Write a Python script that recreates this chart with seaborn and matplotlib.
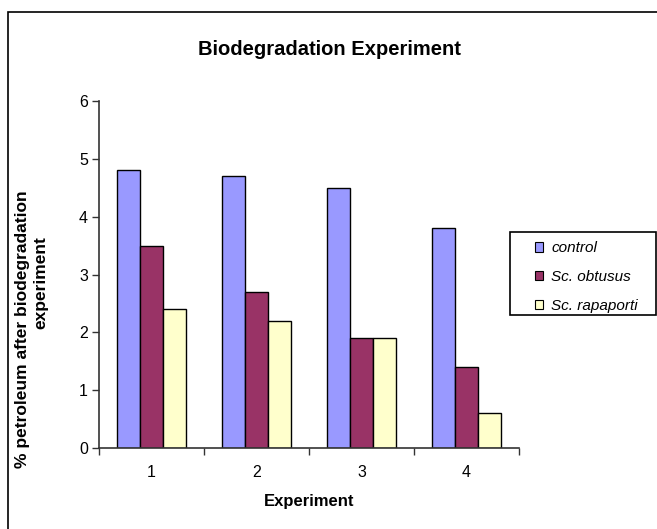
import matplotlib
matplotlib.use("Agg")
import matplotlib.pyplot as plt
import seaborn as sns
import pandas as pd
from matplotlib.patches import Rectangle

# Data
experiments = ["1", "2", "3", "4"]
series = ["control", "Sc. obtusus", "Sc. rapaporti"]
control = [4.8, 4.7, 4.5, 3.8]
sc_obtusus = [3.5, 2.7, 1.9, 1.4]
sc_rapaporti = [2.4, 2.2, 1.9, 0.6]
colors = ["#9999FF", "#993366", "#FFFFCC"]

df = pd.DataFrame({
    "Experiment": experiments * 3,
    "value": control + sc_obtusus + sc_rapaporti,
    "series": [s for s in series for _ in experiments],
})

sns.set_style("white")
plt.rcParams["font.family"] = ["Liberation Sans", "DejaVu Sans"]
plt.rcParams["text.color"] = "black"
plt.rcParams["axes.labelcolor"] = "black"
plt.rcParams["xtick.color"] = "black"
plt.rcParams["ytick.color"] = "black"

W, H = 657, 529
fig = plt.figure(figsize=(W / 100, H / 100), dpi=100)
ax = fig.add_axes([0.1507, 0.1531, 0.6393, 0.6559])

sns.barplot(data=df, x="Experiment", y="value", hue="series", order=experiments,
            hue_order=series, palette=colors, width=0.655, gap=0,
            edgecolor="black", linewidth=1, saturation=1, ax=ax, legend=True)

ax.set_ylim(0, 6)
ax.set_yticks(range(0, 7))
ax.set_xlim(-0.5, 3.5)
ax.set_xticks([-0.5, 0.5, 1.5, 2.5, 3.5])
ax.set_xticklabels([])
ax.set_xticks(range(4), minor=True)
ax.set_xticklabels(experiments, minor=True)
ax.tick_params(axis="x", which="minor", length=0, pad=12, labelsize=11.5)
ax.tick_params(axis="x", which="major", length=5, width=1, color="#333333", direction="out")
ax.tick_params(axis="y", length=5, width=1, color="#333333", direction="out",
               labelsize=11.5, pad=3)
ax.tick_params(bottom=True, left=True)

for side in ["top", "right"]:
    ax.spines[side].set_visible(False)
for side in ["left", "bottom"]:
    ax.spines[side].set_color("#333333")
    ax.spines[side].set_linewidth(1.2)

ax.set_xlabel("Experiment", fontsize=12, fontweight="bold", labelpad=10.5)
ax.set_ylabel("")

# Two-line y-axis title
fig.text(23 / W, 1 - 329 / H, "% petroleum after biodegradation", rotation=90,
         ha="center", va="center", fontsize=12.5, fontweight="bold")
fig.text(41 / W, 1 - 283 / H, "experiment", rotation=90,
         ha="center", va="center", fontsize=12.5, fontweight="bold")

fig.text(0.502, 0.906, "Biodegradation Experiment", ha="center", va="center",
         fontsize=14.5, fontweight="bold")

# Legend with a separate box frame
handles, labels = ax.get_legend_handles_labels()
ax.legend_.remove()
leg = fig.legend(handles, labels, loc="center left",
                 bbox_to_anchor=(535 / W, 1 - 277 / H),
                 frameon=False, prop={"style": "italic", "size": 11},
                 handlelength=0.55, handleheight=0.55, handletextpad=0.5,
                 labelspacing=0.95, borderpad=0, borderaxespad=0)
for h in leg.legend_handles:
    h.set_linewidth(0.8)
fig.patches.append(Rectangle((510 / W, 1 - 315 / H), 146 / W, 83 / H,
                             transform=fig.transFigure, fill=False,
                             edgecolor="black", linewidth=1.2))

# Outer chart border
fig.patches.append(Rectangle((8 / W, -0.05), 1.2, 1 - 12 / H + 0.05,
                             transform=fig.transFigure, fill=False,
                             edgecolor="black", linewidth=1.2))

fig.savefig("out.png", dpi=100)
